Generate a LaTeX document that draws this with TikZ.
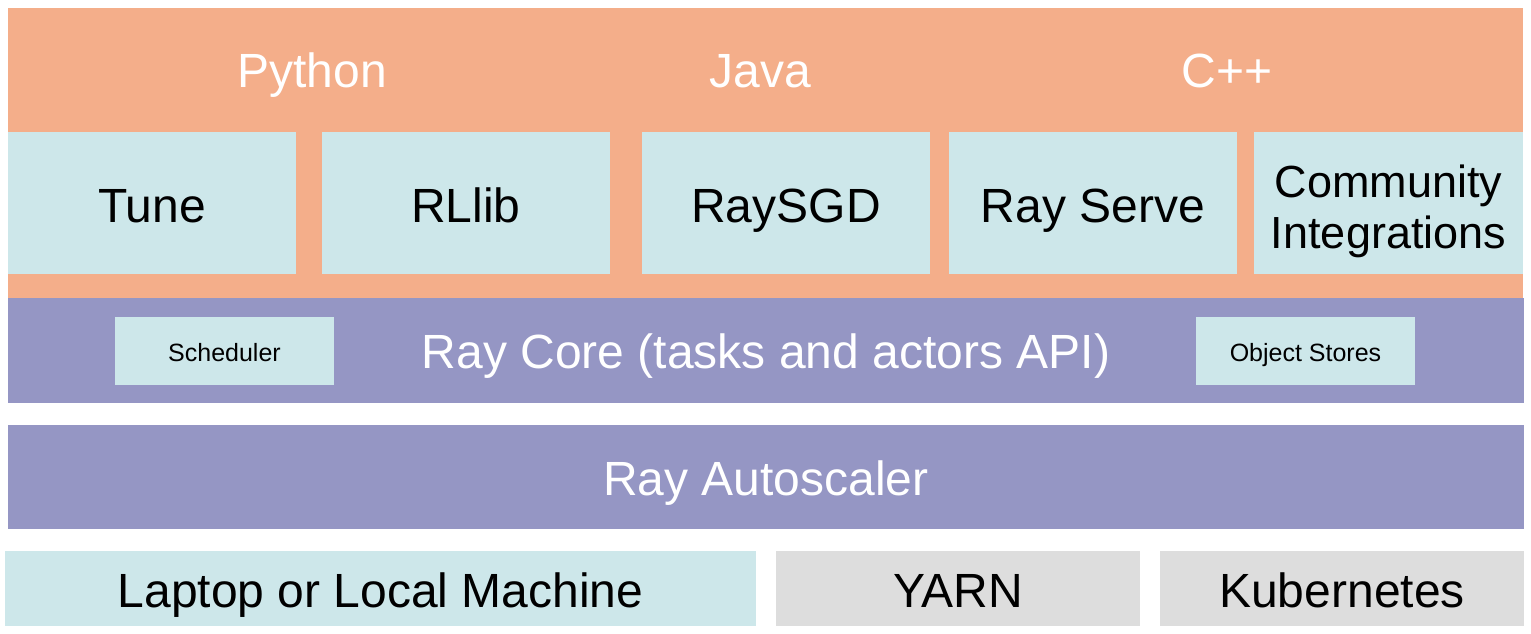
\documentclass[tikz,border=0pt]{standalone}
\usepackage{fontspec}
\setmainfont{Liberation Sans}
\definecolor{langorange}{RGB}{244,174,138}
\definecolor{libcyan}{RGB}{205,231,234}
\definecolor{corepurple}{RGB}{149,150,196}
\definecolor{hostgray}{RGB}{221,221,221}
\tikzset{
  layer/.style={fill=#1, draw=none, inner sep=0pt, outer sep=0pt},
  libbox/.style={layer=libcyan, minimum width=288pt, minimum height=142pt,
    text height=38pt, text depth=0pt, font=\fontsize{48}{51}\selectfont},
  hostbox/.style={layer=#1, minimum height=75pt,
    text height=37pt, text depth=0pt, font=\fontsize{48}{51}\selectfont},
  smallbox/.style={layer=libcyan, minimum width=219pt, minimum height=68pt,
    text height=20pt, text depth=0pt, font=\fontsize{25}{28}\selectfont},
  whitetext/.style={text=white, inner sep=0pt, anchor=base, font=\fontsize{48}{52}\selectfont}
}
\begin{document}
\begin{tikzpicture}[x=1pt, y=-1pt]

  \useasboundingbox (0,0) rectangle (1531,634);

  % languages
  \node[layer=langorange, minimum width=1515pt, minimum height=290pt] (lang) at (765.5,153) {};
  \node[whitetext] (python) at (312,88) {Python};
  \node[whitetext] (java) at (760,88) {Java};
  \node[whitetext] (cpp) at (1227,88) {C++};

  % libraries
  \node[libbox] (tune) at (152,203) {Tune};
  \node[libbox] (rllib) at (466,203) {RLlib};
  \node[libbox] (raysgd) at (786,203) {RaySGD};
  \node[libbox] (serve) at (1093,203) {Ray Serve};
  \node[libbox, minimum width=269pt, align=center, text height=90pt,
    font=\fontsize{45}{51}\selectfont] (community) at (1388.5,203) {Community\\Integrations};

  % core
  \node[layer=corepurple, minimum width=1516pt, minimum height=105pt] (core) at (766,350.5) {};
  \node[whitetext] (corelabel) at (766,368) {Ray Core (tasks and actors API)};
  \node[smallbox] (scheduler) at (224.5,351) {Scheduler};
  \node[smallbox] (objstore) at (1305.5,351) {Object Stores};

  % autoscaler
  \node[layer=corepurple, minimum width=1516pt, minimum height=104pt] (autoscaler) at (766,477) {};
  \node[whitetext] (autolabel) at (766,495) {Ray Autoscaler};

  % machines
  \node[hostbox=libcyan, minimum width=751pt] (laptop) at (380.5,588.5) {Laptop or Local Machine};
  \node[hostbox=hostgray, minimum width=364pt] (yarn) at (958,588.5) {YARN};
  \node[hostbox=hostgray, minimum width=364pt] (k8s) at (1342,588.5) {Kubernetes};

\end{tikzpicture}
\end{document}
